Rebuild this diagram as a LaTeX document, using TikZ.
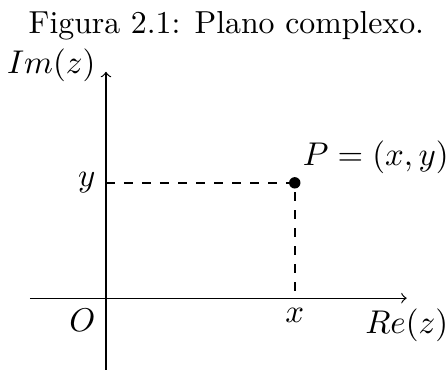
\documentclass[tikz,border=0pt]{standalone}
\usepackage{tikz}
\usetikzlibrary{positioning}
\tikzset{axis/.style={->},guide/.style={dashed,thick},ponto/.style={circle,fill,inner sep=0pt,minimum size=3.8pt}}

\begin{document}
\begin{tikzpicture}[font=\fontsize{10.6pt}{12.7pt}\selectfont]
\useasboundingbox (-1.24,-0.84) rectangle (3.98,3.49);
\node[anchor=base] (cap) at (1.41,3.10) {Figura 2.1: Plano complexo.};
\coordinate (O) at (0,0);
\coordinate (xmin) at (-0.89,0);
\coordinate (xmax) at (3.52,0);
\coordinate (ymin) at (0,-0.84);
\coordinate (ymax) at (0,2.65);
\coordinate (p) at (2.21,1.35);
\coordinate (px) at (2.21,0);
\coordinate (py) at (0,1.35);
\draw[axis] (xmin) -- (xmax) node[below] (re) {$Re(z)$};
\draw[axis] (ymin) -- (ymax) node[left,yshift=2pt] (im) {$Im(z)$};
\draw[guide] (py) -- (p) -- (px);
\node[ponto] (P) at (p) {};
\node[above right=3pt and 2.5pt of P.center, inner sep=0pt] (plab) {$P=(x,y)$};
\node[below left] (olab) at (O) {$O$};
\node[below] (xlab) at (px) {$x$};
\node[left] (ylab) at (py) {$y$};
\end{tikzpicture}
\end{document}
